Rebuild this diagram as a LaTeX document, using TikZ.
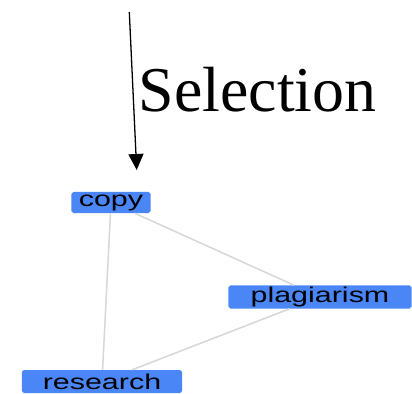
\documentclass[tikz,border=0pt]{standalone}
\usepackage{fontspec}
\setmainfont{Liberation Serif}
\newfontfamily\boxfont{Liberation Sans}
\usetikzlibrary{arrows.meta}
\definecolor{termblue}{RGB}{74,134,245}
\definecolor{edgegray}{RGB}{215,215,215}
\newcommand{\term}[1]{\scalebox{1.42}[1]{#1}}
\begin{document}
\begin{tikzpicture}[x=0.03cm,y=-0.03cm,
    term/.style={fill=termblue,rounded corners=1.5pt,inner sep=0pt,
        font=\boxfont\fontsize{18.3}{20}\selectfont,text=black},
    link/.style={edgegray,line width=1.3pt}]
    \useasboundingbox (0,0) rectangle (412,394);
    % Terms
    \node[term,minimum width=2.37cm,minimum height=0.63cm] (copy) at (111,202.5) {\term{copy}};
    \node[term,minimum width=5.49cm,minimum height=0.69cm] (plagiarism) at (320,297) {\term{plagiarism}};
    \node[term,minimum width=4.80cm,minimum height=0.69cm] (research) at (102,381.5) {\term{research}};
    % Links
    \draw[link] (copy) -- (plagiarism);
    \draw[link] (copy) -- (research);
    \draw[link] (plagiarism) -- (research);
    % Selection arrow
    \coordinate (from) at (129.3,12);
    \coordinate (to) at (136.7,170);
    \draw[line width=1.1pt,-{Triangle[width=0.45cm,length=0.48cm]}] (from) -- (to);
    \node[anchor=base west,inner sep=0pt,font=\fontsize{54.5}{60}\selectfont] (sel) at (138.5,112) {Selection};
\end{tikzpicture}
\end{document}
